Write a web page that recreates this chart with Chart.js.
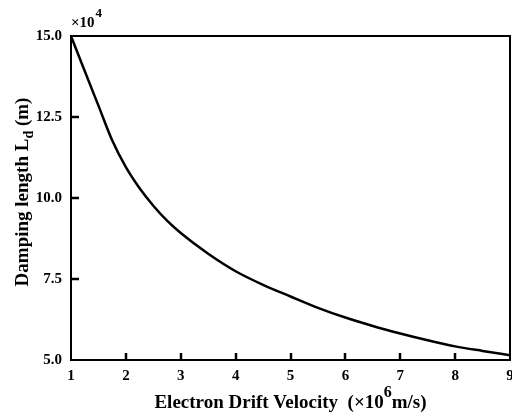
<!DOCTYPE html>
<html>
<head>
<meta charset="utf-8">
<script src="https://cdn.jsdelivr.net/npm/chart.js@4.4.0/dist/chart.umd.min.js"></script>
<style>
  html, body { margin: 0; padding: 0; background: #fff; }
  #wrap { width: 512px; height: 415px; }
</style>
</head>
<body>
<div id="wrap"><canvas id="chart"></canvas></div>
<script>
// drift velocity (x10^6 m/s) and damping length (x10^4 m)
const velocity = [1, 1.25, 1.5, 1.75, 2, 2.25, 2.5, 2.75, 3, 3.5, 4, 4.5, 5, 5.5, 6, 6.5, 7, 7.5, 8, 8.5, 9];
const dampingLength = [15, 13.92, 12.85, 11.78, 10.95, 10.3, 9.76, 9.3, 8.92, 8.28, 7.74, 7.32, 6.96, 6.61, 6.31, 6.05, 5.82, 5.61, 5.42, 5.28, 5.15];
const xTicks = [1, 2, 3, 4, 5, 6, 7, 8, 9];
const yTicks = [5, 7.5, 10, 12.5, 15];

const FONT = "'Liberation Serif', 'Times New Roman', serif";

const points = velocity.map((v, i) => ({x: v, y: dampingLength[i]}));

// frame, inward ticks and the titles with sub/superscripts
const decor = {
  id: "decor",
  afterDraw(chart) {
    const ctx = chart.ctx;
    const a = chart.chartArea;
    const xs = chart.scales.x;
    const ys = chart.scales.y;
    ctx.save();
    ctx.strokeStyle = "#000";
    ctx.fillStyle = "#000";
    ctx.lineWidth = 2;
    ctx.strokeRect(a.left, a.top, a.right - a.left, a.bottom - a.top);

    // inward ticks on the bottom and left axes
    ctx.lineWidth = 2.5;
    ctx.beginPath();
    for (let i = 1; i < xTicks.length - 1; i++) {
      const px = Math.round(xs.getPixelForValue(xTicks[i]));
      ctx.moveTo(px, a.bottom);
      ctx.lineTo(px, a.bottom - 7);
    }
    for (let i = 1; i < yTicks.length - 1; i++) {
      const py = Math.round(ys.getPixelForValue(yTicks[i]));
      ctx.moveTo(a.left, py);
      ctx.lineTo(a.left + 8, py);
    }
    ctx.stroke();

    ctx.textBaseline = "alphabetic";

    // x10^4 multiplier
    ctx.textAlign = "left";
    ctx.font = "bold 15px " + FONT;
    ctx.fillText("×10", a.left, 27);
    const w1 = ctx.measureText("×10").width;
    ctx.font = "bold 13px " + FONT;
    ctx.fillText("4", a.left + w1 + 1, 17);

    // x title
    const big = "bold 19px " + FONT;
    const sup = "bold 16px " + FONT;
    const p1 = "Electron Drift Velocity  (×10";
    const p2 = "6";
    const p3 = "m/s)";
    ctx.font = big;
    const wa = ctx.measureText(p1).width;
    const wc = ctx.measureText(p3).width;
    ctx.font = sup;
    const wb = ctx.measureText(p2).width;
    let x0 = (a.left + a.right) / 2 - (wa + wb + wc) / 2;
    const yb = 408;
    ctx.font = big;
    ctx.fillText(p1, x0, yb);
    ctx.font = sup;
    ctx.fillText(p2, x0 + wa, yb - 11);
    ctx.font = big;
    ctx.fillText(p3, x0 + wa + wb, yb);

    // y title, rotated
    ctx.translate(28, (a.top + a.bottom) / 2 - 6);
    ctx.rotate(-Math.PI / 2);
    const q1 = "Damping length L";
    const q2 = "d";
    const q3 = " (m)";
    const sub = "bold 14px " + FONT;
    ctx.font = big;
    const va = ctx.measureText(q1).width;
    const vc = ctx.measureText(q3).width;
    ctx.font = sub;
    const vb = ctx.measureText(q2).width;
    x0 = -(va + vb + vc) / 2;
    ctx.font = big;
    ctx.fillText(q1, x0, 0);
    ctx.font = sub;
    ctx.fillText(q2, x0 + va, 5);
    ctx.font = big;
    ctx.fillText(q3, x0 + va + vb, 0);
    ctx.restore();
  },
};

new Chart(document.getElementById("chart"), {
  type: "scatter",
  data: {
    datasets: [
      {
        data: points,
        showLine: true,
        borderColor: "#000",
        borderWidth: 2.5,
        pointRadius: 0,
        cubicInterpolationMode: "monotone",
        fill: false,
      },
    ],
  },
  options: {
    responsive: true,
    maintainAspectRatio: false,
    animation: false,
    layout: {padding: {left: 0, right: 2, top: 36, bottom: 0}},
    plugins: {legend: {display: false}, tooltip: {enabled: false}},
    scales: {
      x: {
        type: "linear",
        min: 1,
        max: 9,
        afterBuildTicks: (s) => {
          s.ticks = xTicks.map((v) => ({value: v}));
        },
        afterFit: (s) => {
          s.height = 55;
          s.paddingLeft = 0;
          s.paddingRight = 0;
        },
        grid: {display: false, drawTicks: false},
        border: {display: false},
        ticks: {
          color: "#000",
          padding: 7,
          maxRotation: 0,
          font: {family: FONT, size: 15, weight: "bold"},
        },
      },
      y: {
        type: "linear",
        min: 5,
        max: 15,
        afterBuildTicks: (s) => {
          s.ticks = yTicks.map((v) => ({value: v}));
        },
        afterFit: (s) => {
          s.width = 71;
          s.paddingTop = 0;
          s.paddingBottom = 0;
        },
        grid: {display: false, drawTicks: false},
        border: {display: false},
        ticks: {
          color: "#000",
          padding: 9,
          font: {family: FONT, size: 15, weight: "bold"},
          callback: (v) => v.toFixed(1),
        },
      },
    },
  },
  plugins: [decor],
});
</script>
</body>
</html>
